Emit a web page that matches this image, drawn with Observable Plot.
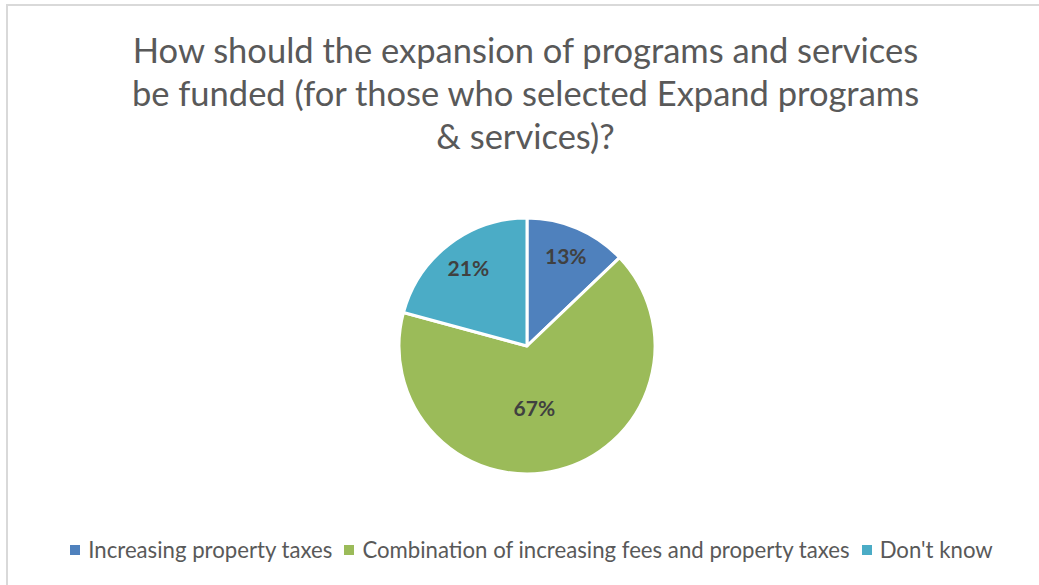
<!DOCTYPE html>
<html><head><meta charset="utf-8">
<script src="https://cdn.jsdelivr.net/npm/d3@7"></script>
<script src="https://cdn.jsdelivr.net/npm/@observablehq/plot@0.6"></script>
<style>
html,body{margin:0;padding:0;background:#fff;}
#frame{position:relative;width:1039px;height:585px;overflow:hidden;background:#fff;}
#border{position:absolute;left:6px;top:4px;width:1100px;height:700px;border:2px solid #d9d9d9;box-sizing:border-box;}
#title{position:absolute;left:0;width:1051px;top:28px;text-align:center;font-family:Lato,sans-serif;font-size:34.5px;line-height:43px;color:#595959;}
#chart{position:absolute;left:0;top:0;}
#legend{position:absolute;left:0;top:533px;width:1075px;display:flex;justify-content:center;}
.lg{margin:0 !important;}
.lg-swatch{margin-right:12px !important;}
.lg-swatch > svg{margin-right:8px !important;}
</style>
</head><body>
<div id="frame">
  <div id="border"></div>
  <div id="chart"></div>
  <div id="title"></div>
  <div id="legend"></div>
</div>
<script>
const categories = ["Increasing property taxes", "Combination of increasing fees and property taxes", "Don't know"];
const shares = [13, 67, 21];
const colors = ["#4F81BD", "#9BBB59", "#4BACC6"];
const titleLines = ["How should the expansion of programs and services", "be funded (for those who selected  Expand programs", "& services)?"];

document.getElementById("title").innerHTML = titleLines.map(t => t.replace(/&/g, "&amp;")).join("<br>");

const data = categories.map((c, i) => ({category: c, value: shares[i]}));
const arcs = d3.pie().sort(null).value(d => d.value)(data);
const labels = arcs.map(a => {
  const big = (a.endAngle - a.startAngle) > Math.PI;
  const m = big ? (a.startAngle + a.endAngle) / 2 + 0.14 : (a.startAngle + a.endAngle) / 2;
  const k = big ? 0.49 : 0.76;
  return {category: a.data.category, value: a.data.value, lx: Math.sin(m) * k, ly: Math.cos(m) * k};
});

const color = Plot.scale({color: {type: "ordinal", domain: categories, range: colors}});

const slices = (index, scales) => {
  const cx = scales.x(0), cy = scales.y(0), r = scales.x(1) - cx;
  const arc = d3.arc().innerRadius(0).outerRadius(r);
  const g = d3.create("svg:g").attr("transform", `translate(${cx},${cy})`);
  g.selectAll("path").data(arcs).join("path")
    .attr("d", arc)
    .attr("fill", d => color.apply(d.data.category))
    .attr("stroke", "#fff")
    .attr("stroke-width", 3)
    .attr("stroke-linejoin", "round");
  return g.node();
};

const chart = Plot.plot({
  width: 1039,
  height: 585,
  margin: 0,
  style: {background: "transparent"},
  x: {domain: [-1, 1], range: [399, 655], axis: null},
  y: {domain: [-1, 1], range: [474, 218], axis: null},
  marks: [
    slices,
    Plot.text(labels, {x: "lx", y: "ly", text: d => d.value + "%", fill: "#404040", fontWeight: "bold", fontSize: 21, fontFamily: "Lato"})
  ]
});
document.getElementById("chart").appendChild(chart);

const legend = Plot.legend({
  color: {type: "ordinal", domain: categories, range: colors},
  legend: "swatches",
  swatchSize: 10,
  className: "lg",
  style: {fontFamily: "Lato", fontSize: "22.2px", color: "#595959"}
});
document.getElementById("legend").appendChild(legend);
</script>
</body></html>
